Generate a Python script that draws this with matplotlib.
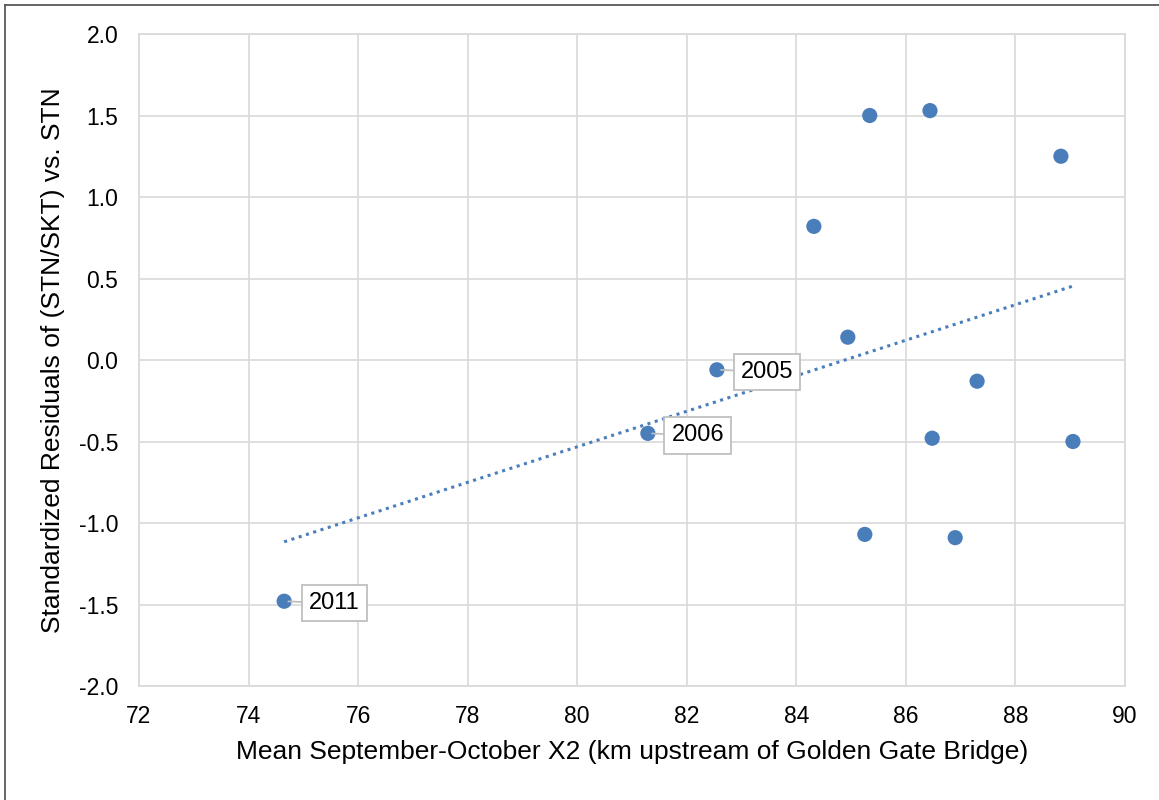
import numpy as np
import matplotlib.pyplot as plt
from matplotlib.lines import Line2D

plt.rcParams['font.family'] = ['Liberation Sans', 'DejaVu Sans']

# mean Sep-Oct X2 (km) and standardized residuals
x2_km = [74.65, 81.29, 82.55, 84.32, 84.94, 85.34, 86.44, 85.25, 86.48, 86.90, 87.30, 89.05, 88.83]
residuals = [-1.48, -0.45, -0.06, 0.82, 0.14, 1.50, 1.53, -1.07, -0.48, -1.09, -0.13, -0.50, 1.25]

labelled_years = ['2011', '2006', '2005']
labelled_x = [74.65, 81.29, 82.55]
labelled_y = [-1.48, -0.45, -0.06]

blue = '#4a7ebb'
grid_grey = '#d9d9d9'

fig = plt.figure(figsize=(11.59, 8.0), dpi=100)
ax = fig.add_axes([139 / 1159, 1 - 686 / 800, (1125 - 139) / 1159, (686 - 34) / 800])

# linear trendline over the data range
slope, intercept = np.polyfit(x2_km, residuals, 1)
xs = np.array([min(x2_km), max(x2_km)])
ax.plot(xs, slope * xs + intercept, color=blue, lw=2.2, ls=(0, (1, 1.5)), zorder=2)

ax.scatter(x2_km, residuals, s=120, color=blue, edgecolors='none', zorder=3)

for year, xv, yv in zip(labelled_years, labelled_x, labelled_y):
    ax.annotate(year, xy=(xv, yv), xytext=(36, -1.5), textcoords='offset points',
                ha='center', va='center', fontsize=17, zorder=4,
                bbox=dict(boxstyle='square,pad=0.3', fc='white', ec='#bfbfbf', lw=1.3),
                arrowprops=dict(arrowstyle='-', color='#bfbfbf', lw=1.3, shrinkA=0, shrinkB=3))

ax.set_xlim(72, 90)
ax.set_ylim(-2.0, 2.0)
ax.set_xticks(np.arange(72, 91, 2))
ax.set_yticks(np.arange(-2.0, 2.01, 0.5))
ax.set_yticklabels([f'{v:.1f}' for v in np.arange(-2.0, 2.01, 0.5)])
ax.tick_params(length=0, labelsize=16.5)
ax.tick_params(axis='y', pad=15)
ax.tick_params(axis='x', pad=14)
ax.grid(True, color=grid_grey, lw=1.2)
ax.set_axisbelow(True)
for sp in ax.spines.values():
    sp.set_color(grid_grey)
    sp.set_linewidth(1.2)

ax.set_xlabel('Mean September-October X2 (km upstream of Golden Gate Bridge)', fontsize=19, labelpad=8)
ax.set_ylabel('Standardized Residuals of (STN/SKT) vs. STN', fontsize=19, labelpad=10)

# screenshot frame on the left and top edges
fig.add_artist(Line2D([4.5 / 1159, 4.5 / 1159], [0, 1 - 4.5 / 800], color='#595959', lw=1.3))
fig.add_artist(Line2D([4.5 / 1159, 1], [1 - 4.5 / 800, 1 - 4.5 / 800], color='#595959', lw=1.3))

fig.savefig('out.png', dpi=100)
